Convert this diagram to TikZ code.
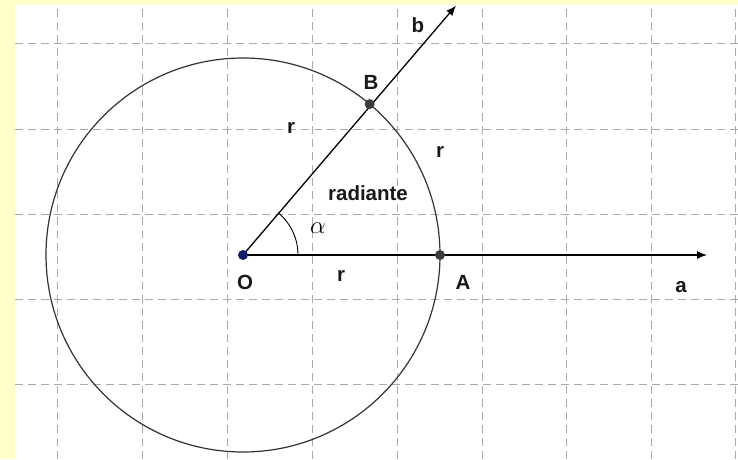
\documentclass[tikz,border=0pt]{standalone}
\usepackage{fontspec}
\setmainfont{Liberation Sans}
\usetikzlibrary{arrows.meta, calc}
\definecolor{paper}{RGB}{255,255,204}
\definecolor{gridgray}{RGB}{170,170,170}
\definecolor{dotblue}{RGB}{20,30,110}
\definecolor{dotgray}{RGB}{60,60,60}

\begin{document}
\begin{tikzpicture}[x=1pt, y=1pt, dot/.style = {circle, draw=none, inner sep=0pt, minimum size=10pt},
        lbl/.style = {font=\bfseries\fontsize{20.5}{20.5}\selectfont, text=black!90}]
            \fill[paper] (0,0) rectangle (738,459);
            \fill[white] (15,0) rectangle (738,454);
            \useasboundingbox (0,0) rectangle (738,459);

            \foreach \x in {57,142,227,312,397,482,566,651,735}
                \draw[gridgray, line width=1pt, dash pattern=on 8pt off 5pt] (\x,0) -- (\x,454);
            \foreach \y in {415,330,245,160,75}
                \draw[gridgray, line width=1pt, dash pattern=on 8pt off 5pt] (15,\y) -- (738,\y);

            \coordinate (O) at (243,204);
            \coordinate (A) at (440,204);
            \coordinate (B) at ($(O)+(50:197)$);
            \coordinate (aend) at (707,204);
            \coordinate (bend) at ($(O)+(49.5:328)$);

            \draw[black!80, line width=1.2pt] (O) circle (197);
            \draw[-{Latex[length=10pt, width=8pt]}, line width=1.3pt] (O) -- (aend);
            \draw[-{Latex[length=10pt, width=8pt]}, line width=1.3pt] (O) -- (bend);
            \draw[line width=0.9pt] (O) ++(55,0) arc[start angle=0, end angle=50, radius=55];

            \node[dot, fill=dotblue] (dotO) at (O) {};
            \node[dot, fill=dotgray] (dotA) at (A) {};
            \node[dot, fill=dotgray] (dotB) at (B) {};

            \node[lbl] (labO) at (245,177) {O};
            \node[lbl] (labA) at (463,177) {A};
            \node[lbl] (labB) at (371,377) {B};
            \node[lbl] (laba) at (681,172) {a};
            \node[lbl] (labb) at (418,434) {b};
            \node[lbl] (rOA) at (341,183) {r};
            \node[lbl] (rOB) at (291,331) {r};
            \node[lbl] (rAB) at (440,307) {r};
            \node[lbl] (rad) at (368,266) {radiante};
            \node (alpha) at (318,231) {\fontsize{25}{25}\selectfont$\alpha$};
        \end{tikzpicture}
\end{document}
